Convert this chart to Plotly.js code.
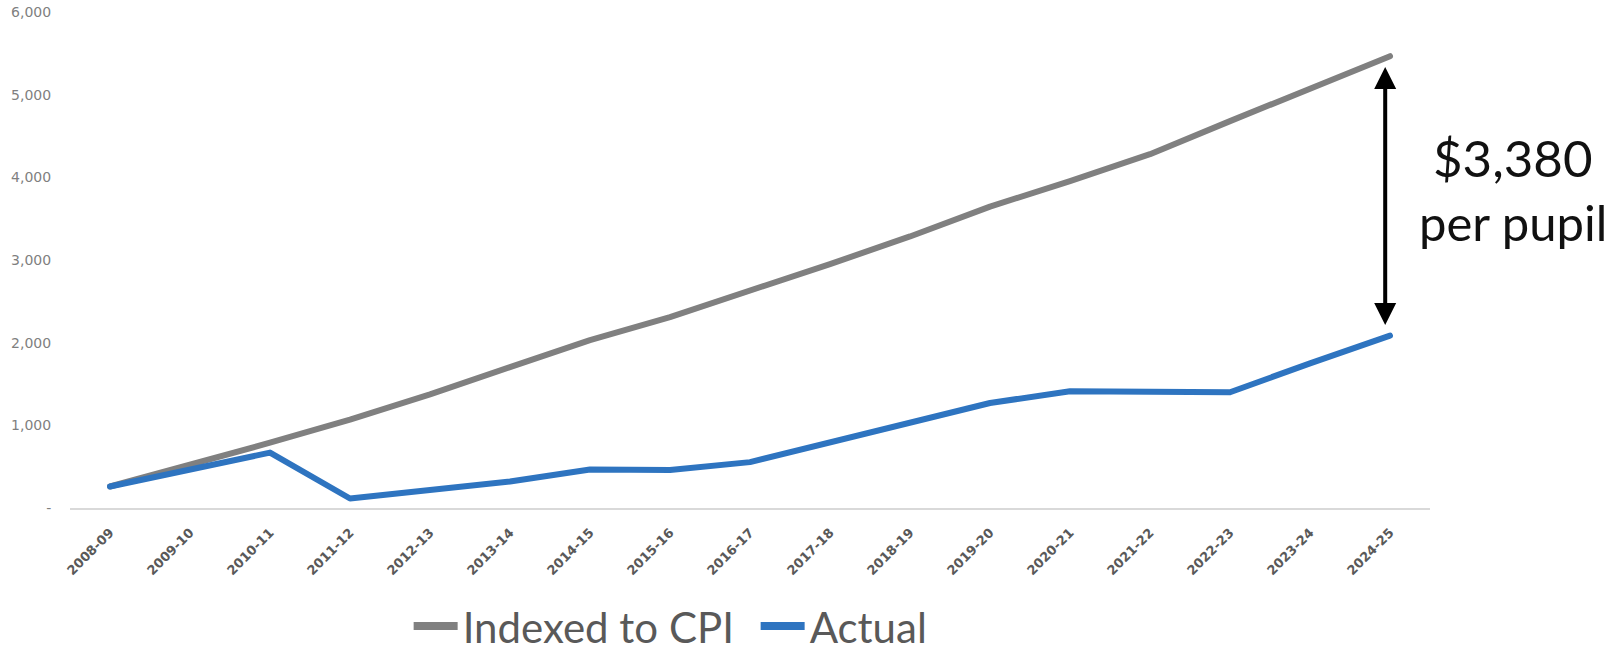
<!DOCTYPE html>
<html>
<head>
<meta charset="utf-8">
<script src="https://cdn.plot.ly/plotly-3.0.1.min.js"></script>
<style>
html,body{margin:0;padding:0;background:#fff;}
#chart{width:1624px;height:653px;}
#chart .scatterlayer path.js-line{stroke-linecap:round !important;stroke-linejoin:round !important;}
#chart .legend .legendlines path{stroke-width:8px !important;stroke-linecap:butt !important;}
</style>
</head>
<body>
<div id="chart"></div>
<script>
const years = ["2008-09","2009-10","2010-11","2011-12","2012-13","2013-14","2014-15","2015-16","2016-17","2017-18","2018-19","2019-20","2020-21","2021-22","2022-23","2023-24","2024-25"];
const indexedToCPI = [260, 520, 790, 1070, 1375, 1705, 2030, 2310, 2625, 2950, 3285, 3645, 3955, 4280, 4680, 5065, 5465];
const actual = [260, 465, 670, 115, 225, 320, 465, 460, 555, 790, 1040, 1270, 1413, 1410, 1400, 1750, 2085];
const yTickVals = [0, 1000, 2000, 3000, 4000, 5000, 6000];
const yTickText = ["-", "1,000", "2,000", "3,000", "4,000", "5,000", "6,000"];
const gapLabel = "$3,380";
const gapSub = "per pupil";

const last = years.length - 1;

const traces = [
  {
    x: years, y: indexedToCPI, type: "scatter", mode: "lines",
    name: "Indexed to CPI",
    line: {color: "#808080", width: 6}
  },
  {
    x: years, y: actual, type: "scatter", mode: "lines",
    name: "Actual",
    line: {color: "#2E74C0", width: 6}
  }
];

const layout = {
  width: 1624, height: 653, autosize: false,
  paper_bgcolor: "#ffffff", plot_bgcolor: "#ffffff",
  margin: {l: 70, r: 194, t: 12, b: 145, autoexpand: false},
  showlegend: true,
  legend: {
    orientation: "h", x: 0.249, xanchor: "left", y: -0.17, yanchor: "top",
    font: {family: "Lato, sans-serif", size: 42, color: "#595959"},
    itemwidth: 44,
    entrywidth: 288, entrywidthmode: "pixels",
    bgcolor: "rgba(0,0,0,0)"
  },
  xaxis: {
    type: "category", range: [-0.5, 16.5],
    showline: true, linecolor: "#d9d9d9", linewidth: 2,
    showgrid: false, zeroline: false,
    ticks: "outside", ticklen: 10, tickcolor: "rgba(0,0,0,0)",
    tickangle: -45,
    tickfont: {family: "DejaVu Sans, sans-serif", size: 13, color: "#595959", weight: "bold"},
    automargin: false, fixedrange: true
  },
  yaxis: {
    range: [0, 6000],
    showline: false, showgrid: false, zeroline: false,
    tickvals: yTickVals, ticktext: yTickText,
    ticks: "outside", ticklen: 15, tickcolor: "rgba(0,0,0,0)",
    tickfont: {family: "DejaVu Sans, sans-serif", size: 14, color: "#7f7f7f"},
    automargin: false, fixedrange: true
  },
  annotations: [
    {
      xref: "x", yref: "y", axref: "x", ayref: "y",
      x: last - 0.06, y: indexedToCPI[last] - 130,
      ax: last - 0.06, ay: actual[last] + 110,
      text: "", showarrow: true, arrowside: "end+start",
      arrowhead: 2, arrowsize: 1.1, arrowwidth: 4, arrowcolor: "#000000", standoff: 0, startstandoff: 0
    },
    {
      xref: "paper", yref: "paper", x: 1.061, y: 0.7075, xanchor: "center", yanchor: "middle",
      text: gapLabel, showarrow: false,
      font: {family: "Lato, sans-serif", size: 51, color: "#111111"}
    },
    {
      xref: "paper", yref: "paper", x: 1.061, y: 0.5775, xanchor: "center", yanchor: "middle",
      text: gapSub, showarrow: false,
      font: {family: "Lato, sans-serif", size: 49, color: "#111111"}
    }
  ]
};

Plotly.newPlot("chart", traces, layout, {displayModeBar: false, staticPlot: true});
</script>
</body>
</html>
